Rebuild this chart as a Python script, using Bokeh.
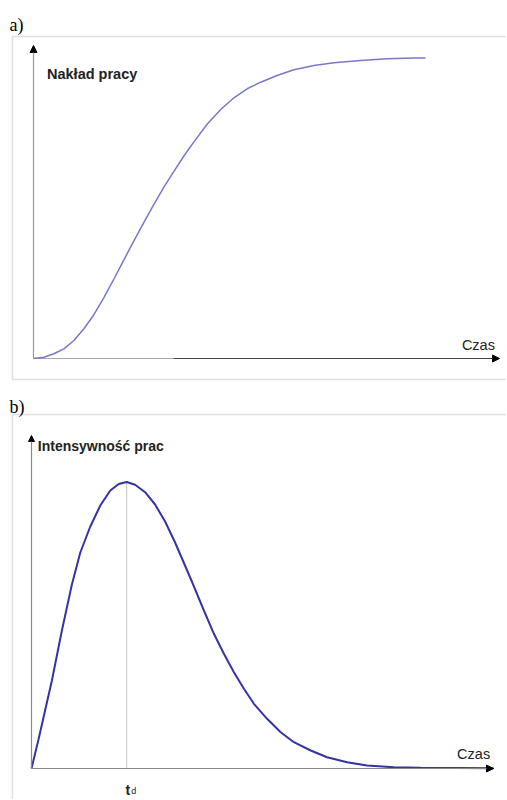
from bokeh.plotting import figure
from bokeh.layouts import column
from bokeh.models import Range1d, Arrow, NormalHead, Label, BoxAnnotation
from bokeh.embed import file_html
from bokeh.resources import INLINE

# ---------------- data ----------------
# panel a) cumulative work (Nakład pracy) over time
time_a = [0.0, 0.26, 0.51, 0.76, 1.01, 1.26, 1.51, 1.76, 2.01, 2.26, 2.51,
          2.76, 3.01, 3.26, 3.51, 3.76, 4.01, 4.34, 4.68, 5.01, 5.34, 5.68,
          6.09, 6.51, 7.01, 7.51, 8.18, 8.84, 9.51, 9.8]
work_a = [0.0, 0.43, 1.57, 3.23, 6.0, 9.9, 14.6, 20.3, 26.5, 32.9, 39.2,
          45.4, 51.4, 57.1, 62.4, 67.5, 72.2, 78.1, 83.0, 86.9, 89.9,
          92.1, 94.33, 96.23, 97.67, 98.57, 99.33, 99.9, 100.2, 100.2]

# panel b) work intensity (Intensywność prac) over time
time_b = [0.0, 0.175, 0.34, 0.51, 0.76, 1.01, 1.22, 1.47, 1.72, 1.97, 2.18,
          2.38, 2.59, 2.84, 3.09, 3.34, 3.59, 3.73, 4.02, 4.31, 4.56, 4.81,
          5.06, 5.31, 5.56, 5.89, 6.23, 6.56, 6.98, 7.39, 7.89, 8.39, 9.06,
          9.73, 11.55]
intens_b = [0.0, 10.12, 20.24, 30.72, 48.17, 64.22, 75.39, 84.47, 91.8,
            97.03, 99.3, 100.0, 99.02, 96.44, 92.15, 86.21, 78.88, 74.35,
            64.92, 55.15, 47.02, 40.03, 33.61, 27.82, 22.58, 17.35, 12.67,
            9.18, 6.28, 3.94, 2.2, 1.05, 0.45, 0.24, 0.1]

t_peak = 2.38
peak_value = 100.0

label_a = "a)"
label_b = "b)"
ylabel_a = "Nakład pracy"
ylabel_b = "Intensywność prac"
xlabel = "Czas"
td_main = "t"
td_sub = "d"

SANS = "Liberation Sans"
SERIF = "Liberation Serif"
FIG_W = 506


def base_fig(h, xr, yr):
    p = figure(width=FIG_W, height=h, x_range=Range1d(*xr), y_range=Range1d(*yr),
               x_axis_type=None, y_axis_type=None, output_backend="svg",
               toolbar_location=None, min_border=0)
    p.grid.visible = False
    p.outline_line_color = None
    p.background_fill_color = "white"
    p.border_fill_color = "white"
    return p


head = dict(fill_color="black", line_color="black")

# ---------------- panel a ----------------
pa = base_fig(388, (-0.825, 11.825), (-10.0, 119.33))
pa.add_layout(BoxAnnotation(left=-0.525, right=20, top=107.33, bottom=-7.0,
                            fill_alpha=0, line_color="#9a9a9a", line_width=1.5))
pa.add_layout(Label(x=-0.6, y=111.0, text=label_a, text_font=SERIF,
                    text_font_size="18px", text_color="black",
                    text_baseline="alphabetic"))
pa.segment(x0=0, y0=0, x1=3.5, y1=0, line_color="#a8a8a8", line_width=1.2)
pa.add_layout(Arrow(x_start=3.5, y_start=0, x_end=11.65, y_end=0,
                    line_color="#444444", line_width=1.2,
                    end=NormalHead(size=7, **head)))
pa.add_layout(Arrow(x_start=0, y_start=0, x_end=0, y_end=104.33,
                    line_color="#999999", line_width=1.2,
                    end=NormalHead(size=7, **head)))
pa.line(time_a, work_a, line_color="#7878c8", line_width=1.5)
pa.add_layout(Label(x=0.3375, y=94.67, text=ylabel_a, text_font=SANS,
                    text_font_size="14.5px", text_font_style="bold",
                    text_color="#222222", text_baseline="alphabetic"))
pa.add_layout(Label(x=10.71, y=4.57, text=xlabel, text_font=SANS,
                    text_font_size="14.5px", text_color="#222222",
                    text_baseline="alphabetic"))

# ---------------- panel b ----------------
pb = base_fig(411, (-0.775, 11.875), (-10.82, 132.64))
pb.add_layout(BoxAnnotation(left=-0.475, right=20, top=123.56, bottom=-40,
                            fill_alpha=0, line_color="#9a9a9a", line_width=1.5))
pb.add_layout(Label(x=-0.55, y=126.18, text=label_b, text_font=SERIF,
                    text_font_size="18px", text_color="black",
                    text_baseline="alphabetic"))
pb.add_layout(Arrow(x_start=0, y_start=0, x_end=11.55, y_end=0,
                    line_color="#8a8a8a", line_width=1.2,
                    end=NormalHead(size=7, **head)))
pb.add_layout(Arrow(x_start=0, y_start=0, x_end=0, y_end=116.23,
                    line_color="#8a8a8a", line_width=1.2,
                    end=NormalHead(size=6, **head)))
pb.segment(x0=[t_peak], y0=[0], x1=[t_peak], y1=[peak_value],
           line_color="#888888", line_width=1, line_dash="1 1")
pb.line(time_b, intens_b, line_color="#3434a4", line_width=2)
pb.add_layout(Label(x=0.1575, y=112.74, text=ylabel_b, text_font=SANS,
                    text_font_size="14px", text_font_style="bold",
                    text_color="#222222", text_baseline="alphabetic"))
pb.add_layout(Label(x=10.64, y=5.13, text=xlabel, text_font=SANS,
                    text_font_size="14.5px", text_color="#222222",
                    text_baseline="alphabetic"))
pb.add_layout(Label(x=2.35, y=-7.33, text=td_main, text_font=SANS,
                    text_font_size="14px", text_font_style="bold",
                    text_color="#222222", text_baseline="alphabetic"))
pb.add_layout(Label(x=2.4925, y=-7.68, text=td_sub, text_font=SANS,
                    text_font_size="9px", text_color="#222222",
                    text_baseline="alphabetic"))

layout = column(pa, pb, spacing=0)
open("out.html", "w").write(file_html(layout, INLINE))
